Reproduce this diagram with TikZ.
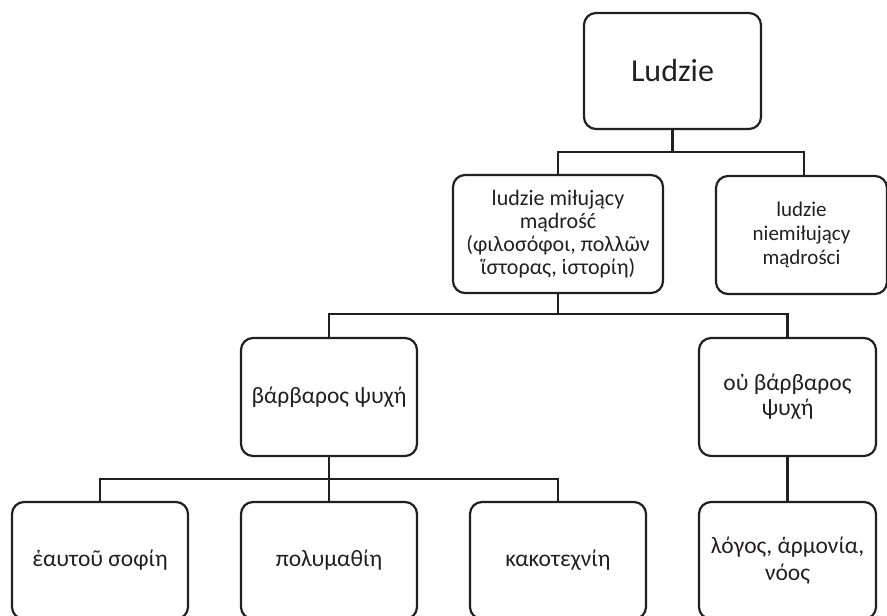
\documentclass[tikz,border=0pt]{standalone}
\usepackage{fontspec}
\setmainfont{Carlito}
\definecolor{ink}{HTML}{231F20}
\begin{document}
\begin{tikzpicture}[x=1pt,y=-1pt,
  tbox/.style={draw=ink, text=ink, line width=2.2pt, rounded corners=12pt, align=center,
    inner sep=0pt, minimum width=176pt, minimum height=118pt,
    font=\fontsize{21}{24}\selectfont},
  lvA/.style={font=\fontsize{22}{23}\selectfont},
  lvC/.style={font=\fontsize{23.5}{25}\selectfont},
  lvE/.style={font=\fontsize{23.5}{27}\selectfont},
  conn/.style={draw=ink, line width=2.2pt}]
\useasboundingbox (0,0) rectangle (887,616);
\clip (0,0) rectangle (887,616);
\node[tbox, minimum width=177pt, minimum height=116pt, font=\fontsize{32}{36}\selectfont] (L0) at (672.5,71) {Ludzie};
\node[tbox, lvA, minimum width=210pt] (A) at (558,234) {ludzie miłujący\\mądrość\\(φιλοσόφοι, πολλῶν\\ἵστορας, ἱστορίη)};
\node[tbox, minimum width=171pt] (B) at (801.5,235) {ludzie\\niemiłujący\\mądrości};
\node[tbox, lvC] (C) at (329,397) {βάρβαρος ψυχή};
\node[tbox, lvC, minimum width=177pt] (D) at (787.5,397) {οὐ βάρβαρος\\ψυχή};
\node[tbox, lvE, minimum height=117pt] (E1) at (100,560.5) {ἑαυτοῦ σοφίη};
\node[tbox, lvE, minimum height=117pt] (E2) at (329,560.5) {πολυμαθίη};
\node[tbox, lvE, minimum height=117pt] (E3) at (558,560.5) {κακοτεχνίη};
\node[tbox, lvE, minimum width=177pt, minimum height=117pt] (E4) at (787.5,560.5) {λόγος, ἁρμονία,\\νόος};
\coordinate (bar1) at (0,152);
\coordinate (b1r) at (804,152);
\coordinate (bar2) at (0,314);
\coordinate (bar3) at (0,479);
\draw[conn] (L0.south) -- (L0.south |- bar1);
\draw[conn] (A.north) |- (b1r) -- (b1r |- B.north);
\draw[conn] (A.south) -- (A.south |- bar2);
\draw[conn] (C.north) |- (D.north |- bar2) -- (D.north);
\draw[conn] (C.south) -- (E2.north);
\draw[conn] (E1.north) |- (E3.north |- bar3) -- (E3.north);
\draw[conn] (D.south) -- (E4.north);
\end{tikzpicture}
\end{document}
